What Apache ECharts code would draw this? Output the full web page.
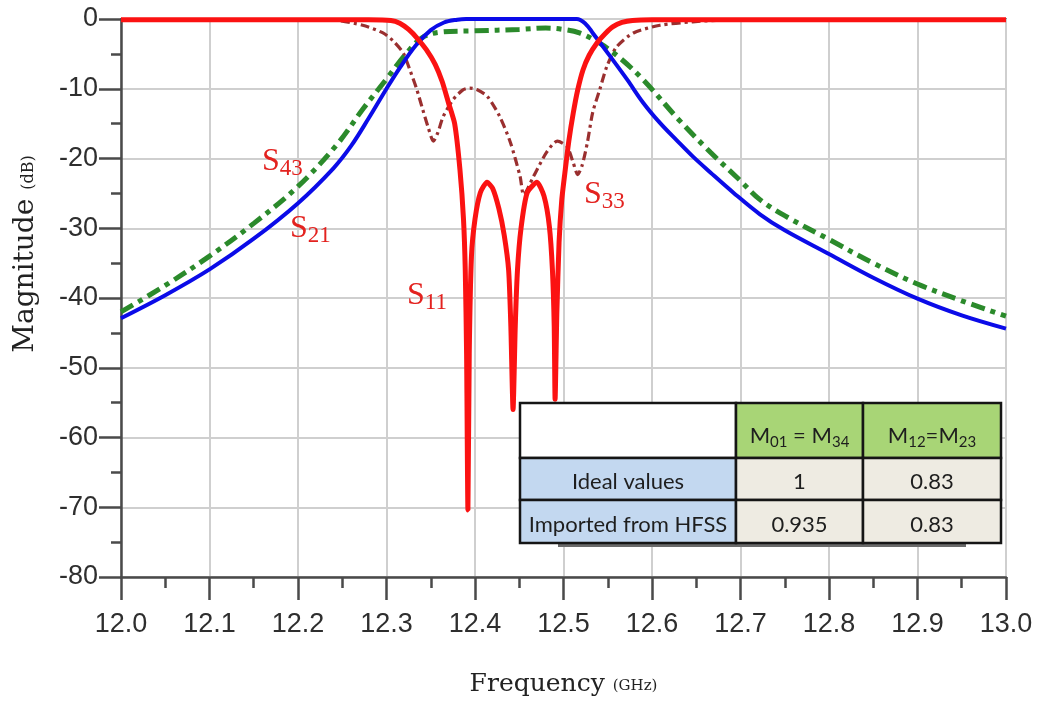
<!DOCTYPE html>
<html><head><meta charset="utf-8">
<script src="https://cdn.jsdelivr.net/npm/echarts@6/dist/echarts.min.js"></script>
<style>html,body{margin:0;padding:0;background:#fff}#c{width:1037px;height:702px}</style>
</head><body><div id="c"></div>
<script>
// ---- data ----
const s11Freq = [12.0, 12.1, 12.2, 12.28, 12.305, 12.315, 12.325, 12.335, 12.345, 12.355,
  12.363, 12.37, 12.377, 12.383, 12.387, 12.389, 12.3905, 12.392, 12.3935, 12.396,
  12.4, 12.406, 12.4136, 12.42, 12.427, 12.433, 12.438, 12.4405, 12.443, 12.4455,
  12.448, 12.452, 12.459, 12.47, 12.478, 12.484, 12.4875, 12.4895, 12.4905, 12.4925,
  12.495, 12.498, 12.502, 12.506, 12.511, 12.516, 12.522, 12.529, 12.538, 12.547,
  12.556, 12.566, 12.578, 12.6, 12.7, 12.8, 12.9, 13.0];
const s11Db = [-0.1, -0.1, -0.1, -0.1, -0.2, -0.6, -1.5, -2.8, -4.4, -6.5,
  -9.0, -12.0, -15.0, -21.6, -28.7, -36, -48, -70.4, -48, -34,
  -28.7, -24.9, -23.4, -24.3, -27.2, -31, -36, -44, -56, -44,
  -36, -30, -24.9, -23.4, -25.4, -29.7, -36, -44, -54.5, -42,
  -32, -26, -21.6, -17.5, -13.5, -10.2, -7.3, -5.2, -3.4, -2.1,
  -1.1, -0.5, -0.2, -0.1, -0.1, -0.1, -0.1, -0.1];

const s33Freq = [12.0, 12.1, 12.2, 12.24, 12.273, 12.296, 12.308, 12.319, 12.327, 12.334,
  12.341, 12.347, 12.353, 12.358, 12.364, 12.375, 12.386, 12.394, 12.402, 12.414,
  12.428, 12.44, 12.451, 12.455, 12.466, 12.481, 12.493, 12.504, 12.511, 12.516,
  12.521, 12.527, 12.533, 12.541, 12.549, 12.56, 12.579, 12.609, 12.646, 12.685,
  12.8, 12.9, 13.0];
const s33Db = [-0.1, -0.1, -0.1, -0.15, -0.9, -2.0, -3.2, -4.9, -7.5, -10.0,
  -13.0, -15.5, -17.5, -16.3, -14.0, -11.6, -10.2, -9.9, -10.1, -11.1,
  -14.0, -17.7, -22.6, -25.2, -22.6, -19.1, -17.5, -18.3, -20.6, -22.3,
  -21.0, -17.7, -13.4, -10.1, -6.8, -4.0, -2.0, -0.9, -0.4, -0.15,
  -0.1, -0.1, -0.1];

const s21Freq = [12.0, 12.05, 12.1, 12.15, 12.2, 12.24, 12.26, 12.28, 12.3, 12.315,
  12.333, 12.35, 12.365, 12.38, 12.39, 12.45, 12.515, 12.525, 12.533, 12.553,
  12.572, 12.59, 12.609, 12.628, 12.646, 12.666, 12.692, 12.722, 12.75, 12.8,
  12.85, 12.9, 12.95, 13.0];
const s21Db = [-42.9, -39.6, -35.9, -31.5, -26.4, -21.4, -18.2, -14.2, -10.0, -7.0,
  -3.8, -1.6, -0.5, -0.1, 0, 0, 0, -0.7, -2.0, -5.4,
  -8.7, -12.0, -14.9, -17.4, -19.7, -22.0, -24.9, -28.0, -30.3, -33.7,
  -37.1, -40.1, -42.5, -44.4];

const s43Freq = [12.0, 12.05, 12.1, 12.15, 12.2, 12.244, 12.274, 12.3, 12.322, 12.34,
  12.36, 12.4, 12.45, 12.48, 12.5, 12.518, 12.54, 12.562, 12.59, 12.63,
  12.666, 12.7, 12.722, 12.75, 12.8, 12.85, 12.9, 12.95, 13.0];
const s43Db = [-42.0, -38.2, -34.0, -29.3, -24.0, -18.0, -12.8, -8.6, -5.0, -2.7,
  -1.9, -1.7, -1.5, -1.3, -1.5, -2.0, -3.4, -5.4, -8.7, -14.4,
  -19.1, -23.2, -25.9, -28.2, -31.6, -35.0, -38.0, -40.4, -42.6];

const curveSubs = ['43', '21', '11', '33'];
const tableHead = ['', '{m|M}{s|01}{m| = M}{s|34}', '{m|M}{s|12}{m|=M}{s|23}'];
const tableRowLabels = ['Ideal values', 'Imported from HFSS'];
const tableColM01 = ['1', '0.935'];
const tableColM12 = ['0.83', '0.83'];

// ---- layout ----
const curveLabelPos = [[262, 162], [290, 229], [407, 296], [584, 195]];
const colX = [520, 736, 863, 1001];
const rowY = [403, 458, 500, 543];

const zip = (f, d) => f.map((x, i) => [x, d[i]]);
const chart = echarts.init(document.getElementById('c'));

const tickFont = '"Liberation Sans", Arial, sans-serif';
const serif = '"DejaVu Serif", serif';
const tblFont = 'Lato, "Liberation Sans", sans-serif';

const graphics = [];
// y axis name
graphics.push({
  type: 'text', x: 25, y: 254, rotation: Math.PI / 2, z: 10,
  style: {
    text: '{a|Magnitude }{b|(dB)}', align: 'center', verticalAlign: 'middle',
    rich: {
      a: { fontFamily: serif, fontSize: 28, fill: '#222', color: '#222', verticalAlign: 'bottom', lineHeight: 30 },
      b: { fontFamily: serif, fontSize: 16, fill: '#222', color: '#222', verticalAlign: 'bottom', lineHeight: 30, padding: [0, 0, 3, 0] }
    }
  }
});
// curve labels
curveSubs.forEach((sub, i) => {
  graphics.push({
    type: 'text', x: curveLabelPos[i][0], y: curveLabelPos[i][1], z: 10,
    style: {
      text: '{a|S}{b|' + sub + '}', align: 'left', verticalAlign: 'middle',
      rich: {
        a: { fontFamily: '"Liberation Serif", serif', fontSize: 32, color: '#e3221f', fill: '#e3221f', verticalAlign: 'bottom', lineHeight: 32 },
        b: { fontFamily: '"Liberation Serif", serif', fontSize: 23, color: '#e3221f', fill: '#e3221f', verticalAlign: 'bottom', lineHeight: 32, padding: [0, 0, -2, 0] }
      }
    }
  });
});
// table
graphics.push({ type: 'rect', shape: { x: 558, y: rowY[3], width: 408, height: 4 }, style: { fill: '#6a6a6a' }, z: 19 });
const fills = [['#ffffff', '#a8d576', '#a8d576'], ['#c3d8f0', '#eeebe2', '#eeebe2'], ['#c3d8f0', '#eeebe2', '#eeebe2']];
const cellText = [tableHead, [tableRowLabels[0], tableColM01[0], tableColM12[0]], [tableRowLabels[1], tableColM01[1], tableColM12[1]]];
for (let r = 0; r < 3; r++) {
  for (let c = 0; c < 3; c++) {
    graphics.push({
      type: 'rect', z: 20,
      shape: { x: colX[c], y: rowY[r], width: colX[c + 1] - colX[c], height: rowY[r + 1] - rowY[r] },
      style: { fill: fills[r][c], stroke: '#151515', lineWidth: 2.5 }
    });
    if (cellText[r][c]) {
      graphics.push({
        type: 'text', z: 21,
        x: (colX[c] + colX[c + 1]) / 2, y: (rowY[r] + rowY[r + 1]) / 2 + 3,
        style: {
          text: cellText[r][c], align: 'center', verticalAlign: 'middle',
          fontFamily: tblFont, fontSize: 22, fill: '#1e1e1e',
          rich: {
            m: { fontFamily: tblFont, fontSize: 22, fill: '#1e1e1e', color: '#1e1e1e', verticalAlign: 'bottom', lineHeight: 26 },
            s: { fontFamily: tblFont, fontSize: 15, fill: '#1e1e1e', color: '#1e1e1e', verticalAlign: 'bottom', lineHeight: 26, padding: [0, 0, -3, 0] }
          }
        }
      });
    }
  }
}

const lineBase = { type: 'line', showSymbol: false, symbol: 'none', clip: false, animation: false };

chart.setOption({
  animation: false,
  backgroundColor: '#ffffff',
  grid: { left: 121, right: 31, top: 19, bottom: 123, show: true, borderColor: '#8a8a8a', borderWidth: 2, backgroundColor: 'transparent' },
  xAxis: {
    type: 'value', min: 12.0, max: 13.0, interval: 0.1,
    name: '{a|Frequency }{b|(GHz)}', nameLocation: 'middle', nameGap: 92,
    nameTextStyle: {
      rich: {
        a: { fontFamily: serif, fontSize: 25, color: '#222', verticalAlign: 'bottom', lineHeight: 28 },
        b: { fontFamily: serif, fontSize: 15, color: '#222', verticalAlign: 'bottom', lineHeight: 28, padding: [0, 0, 3, 0] }
      }
    },
    axisLine: { onZero: false, lineStyle: { color: '#4a4a4a', width: 2.5 } },
    axisTick: { length: 23, lineStyle: { color: '#4a4a4a', width: 2.5 } },
    minorTick: { show: true, splitNumber: 2, length: 11, lineStyle: { color: '#4a4a4a', width: 2.5 } },
    axisLabel: { margin: 34, fontFamily: tickFont, fontSize: 27, color: '#2e2e2e', formatter: v => v.toFixed(1) },
    splitLine: { show: true, lineStyle: { color: '#cfcfcf', width: 2 } }
  },
  yAxis: {
    type: 'value', min: -80, max: 0, interval: 10,
    axisLine: { onZero: false, lineStyle: { color: '#4a4a4a', width: 2.5 } },
    axisTick: { length: 22, lineStyle: { color: '#4a4a4a', width: 2.5 } },
    minorTick: { show: true, splitNumber: 2, length: 10, lineStyle: { color: '#4a4a4a', width: 2.5 } },
    axisLabel: { margin: 23, fontFamily: tickFont, fontSize: 27, color: '#2e2e2e' },
    splitLine: { show: true, lineStyle: { color: '#cfcfcf', width: 2 } }
  },
  series: [
    Object.assign({}, lineBase, { name: 'S33', data: zip(s33Freq, s33Db), smooth: 0.25, z: 2,
      lineStyle: { color: '#9a2f2f', width: 3.2, type: [9, 4, 3, 4] } }),
    Object.assign({}, lineBase, { name: 'S43', data: zip(s43Freq, s43Db), smooth: 0.35, z: 3,
      lineStyle: { color: '#2b8a2b', width: 5, type: [14, 6, 5, 6] } }),
    Object.assign({}, lineBase, { name: 'S21', data: zip(s21Freq, s21Db), smooth: 0.35, z: 4,
      lineStyle: { color: '#0b0be8', width: 4 } }),
    Object.assign({}, lineBase, { name: 'S11', data: zip(s11Freq, s11Db), smooth: 0.2, z: 5,
      lineStyle: { color: '#fb1212', width: 5 } })
  ],
  graphic: graphics
});
</script></body></html>
